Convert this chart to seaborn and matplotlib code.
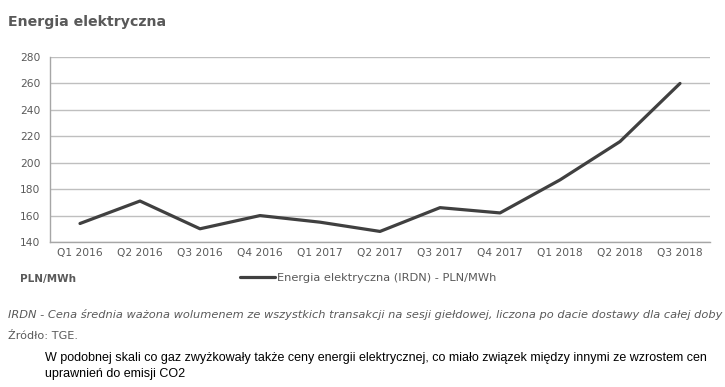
import matplotlib
matplotlib.use("Agg")
import matplotlib.pyplot as plt
import seaborn as sns
import pandas as pd

quarters = ["Q1 2016", "Q2 2016", "Q3 2016", "Q4 2016", "Q1 2017", "Q2 2017",
            "Q3 2017", "Q4 2017", "Q1 2018", "Q2 2018", "Q3 2018"]
prices = [154, 171, 150, 160, 155, 148, 166, 162, 187, 216, 260]
y_ticks = [140, 160, 180, 200, 220, 240, 260, 280]
series_name = "Energia elektryczna (IRDN) - PLN/MWh"

sns.set_theme(style="white")
plt.rcParams['font.family'] = ['DejaVu Sans']

df = pd.DataFrame({"kwartał": quarters, series_name: prices})

fig = plt.figure(figsize=(7.25, 3.87), dpi=100)
ax = fig.add_axes([50/725, 1-242/387, 660/725, 185/387])

sns.lineplot(data=df, x="kwartał", y=series_name, ax=ax, color="#404040",
             linewidth=2.3, label=series_name, legend=False, sort=False)

gray = "#595959"
ax.set_ylim(140, 280)
ax.set_yticks(y_ticks)
ax.set_xlim(-0.5, len(quarters) - 0.5)
ax.set_xticks(range(len(quarters)))
ax.set_xticklabels(quarters)
ax.yaxis.grid(True, color="#bfbfbf", linewidth=1.0)
ax.set_axisbelow(True)
for s in ["top", "right"]:
    ax.spines[s].set_visible(False)
for s in ["left", "bottom"]:
    ax.spines[s].set_color("#a6a6a6")
    ax.spines[s].set_linewidth(1.0)
ax.tick_params(axis="both", labelsize=7.7, colors=gray, length=0, pad=4)
ax.tick_params(axis="y", length=3, color="#a6a6a6", direction="out", width=1)
ax.set_xticks([i + 0.5 for i in range(-1, len(quarters))], minor=True)
ax.tick_params(axis="x", which="minor", length=3, color="#a6a6a6", direction="out", width=1)
ax.set_xlabel("")
ax.set_ylabel("")

fig.text(8/725, 1-22/387, "Energia elektryczna", fontsize=10.2, fontweight="bold",
         color=gray, va="center", ha="left")
fig.text(20/725, 1-279/387, "PLN/MWh", fontsize=7.5, fontweight="bold",
         color=gray, va="center", ha="left")

handles, labels = ax.get_legend_handles_labels()
leg = fig.legend(handles, labels, loc="center left",
                 bbox_to_anchor=(240/725, 1-278/387), frameon=False,
                 fontsize=8.2, handlelength=3.05, handletextpad=0.18,
                 borderpad=0, borderaxespad=0)
for t in leg.get_texts():
    t.set_color(gray)

fig.text(8/725, 1-314/387,
         "IRDN - Cena średnia ważona wolumenem ze wszystkich transakcji na sesji giełdowej, liczona po dacie dostawy dla całej doby",
         fontsize=8.2, style="italic", color=gray, va="center", ha="left")
fig.text(8/725, 1-336/387, "Źródło: TGE.", fontsize=8.1, color=gray,
         va="center", ha="left")
fig.text(45/725, 1-358/387,
         "W podobnej skali co gaz zwyżkowały także ceny energii elektrycznej, co miało związek między innymi ze wzrostem cen",
         fontsize=9.0, color="black", va="center", ha="left", family="Liberation Sans")
fig.text(45/725, 1-374/387, "uprawnień do emisji CO2",
         fontsize=9.0, color="black", va="center", ha="left", family="Liberation Sans")

fig.savefig("out.png", dpi=100, facecolor="white")
